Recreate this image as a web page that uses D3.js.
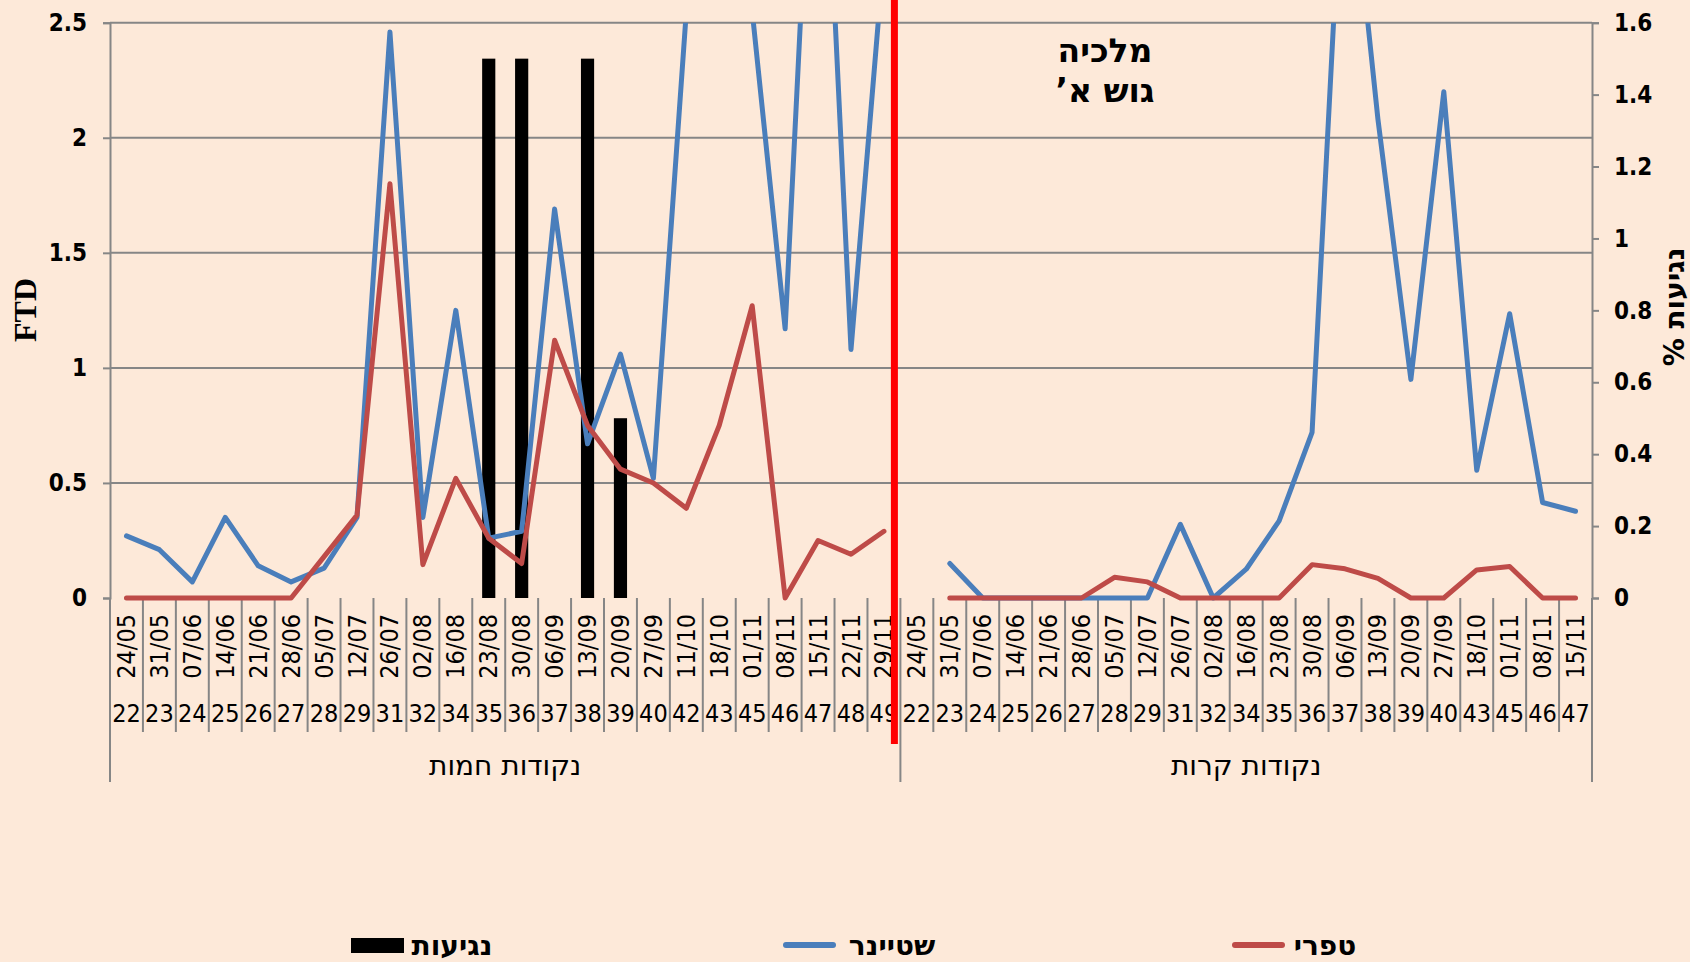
<!doctype html>
<html>
<head>
<meta charset="utf-8" />
<title>מלכיה גוש א' – FTD</title>
<style>
  html,body{margin:0;padding:0;background:#fde9d9}
  svg{display:block}
  .tick line{stroke:#868686;stroke-width:2}
  .domain{stroke:#868686;stroke-width:2}
  .ylab text{font-family:"DejaVu Sans Condensed","DejaVu Sans",sans-serif;font-weight:bold;font-size:24px;fill:#000}
  .cat{font-family:"DejaVu Sans Condensed","DejaVu Sans",sans-serif;font-size:25px;fill:#000}
  .grp{font-family:"DejaVu Sans",sans-serif;font-size:28px;fill:#000;direction:rtl;unicode-bidi:embed}
  .heb-b{font-family:"DejaVu Sans",sans-serif;font-weight:bold;fill:#000;direction:rtl;unicode-bidi:embed}
</style>
</head>
<body>
<script src="https://cdn.jsdelivr.net/npm/d3@7"></script>
<script>
// --- data ---
const groups = ["נקודות חמות", "נקודות קרות"];

const hotWeeks = [22,23,24,25,26,27,28,29,31,32,34,35,36,37,38,39,40,42,43,45,46,47,48,49];
const hotDates = ["24/05","31/05","07/06","14/06","21/06","28/06","05/07","12/07","26/07","02/08","16/08","23/08",
                  "30/08","06/09","13/09","20/09","27/09","11/10","18/10","01/11","08/11","15/11","22/11","29/11"];
const hotSteiner = [0.27,0.21,0.07,0.35,0.14,0.07,0.13,0.35,2.46,0.35,1.25,0.26,
                    0.29,1.69,0.67,1.06,0.52,2.55,3.6,2.55,1.17,4.05,1.08,2.8];
const hotTafri   = [0,0,0,0,0,0,0.18,0.36,1.80,0.145,0.52,0.26,
                    0.15,1.12,0.75,0.56,0.50,0.39,0.75,1.27,0,0.25,0.19,0.29];
const hotContact = [0,0,0,0,0,0,0,0,0,0,0,1.5,1.5,0,1.5,0.5,0,0,0,0,0,0,0,0];   // %

const coldWeeks = [22,23,24,25,26,27,28,29,31,32,34,35,36,37,38,39,40,43,45,46,47];
const coldDates = ["24/05","31/05","07/06","14/06","21/06","28/06","05/07","12/07","26/07","02/08","16/08",
                   "23/08","30/08","06/09","13/09","20/09","27/09","18/10","01/11","08/11","15/11"];
const coldSteiner = [null,0.15,0,0,0,0,0,0,0.32,0,0.125,0.335,0.72,3.45,2.08,0.95,2.2,0.555,1.235,0.415,0.377];
const coldTafri   = [null,0,0,0,0,0,0.09,0.07,0,0,0,0,0.145,0.127,0.085,0,0,0.122,0.137,0,0];
const coldContact = coldWeeks.map(() => 0);

const leftTicks  = [0,0.5,1,1.5,2,2.5];
const rightTicks = [0,0.2,0.4,0.6,0.8,1,1.2,1.4,1.6];

// --- build category rows ---
const cats = [];
hotWeeks.forEach((w,i) => cats.push({g:0, week:w, date:hotDates[i], steiner:hotSteiner[i], tafri:hotTafri[i], contact:hotContact[i]}));
coldWeeks.forEach((w,i) => cats.push({g:1, week:w, date:coldDates[i], steiner:coldSteiner[i], tafri:coldTafri[i], contact:coldContact[i]}));
cats.forEach((c,i) => c.i = i);

const W = 1690, H = 962;
const L = 110, R = 1592, T = 22.7, B = 598;

const x  = d3.scaleBand().domain(d3.range(cats.length)).range([L, R]);
const bw = x.bandwidth();
const cx = i => x(i) + bw/2;
const yL = d3.scaleLinear().domain([0,2.5]).range([B,T]);
const yR = d3.scaleLinear().domain([0,1.6]).range([B,T]);

const svg = d3.select("body").append("svg").attr("width",W).attr("height",H);
svg.append("rect").attr("width",W).attr("height",H).attr("fill","#fde9d9");

svg.append("clipPath").attr("id","plotclip")
  .append("rect").attr("x",L-20).attr("y",T).attr("width",R-L+40).attr("height",H);

// gridlines
svg.append("g").selectAll("line").data(leftTicks.slice(1)).join("line")
  .attr("x1",L).attr("x2",R).attr("y1",d=>yL(d)).attr("y2",d=>yL(d))
  .attr("stroke","#868686").attr("stroke-width",2);

// left axis
const fmt = d => String(+d.toFixed(1));
svg.append("g").attr("class","ylab").attr("transform",`translate(${L},0)`)
  .call(d3.axisLeft(yL).tickValues(leftTicks).tickSize(7).tickPadding(16).tickFormat(fmt));
// right axis
svg.append("g").attr("class","ylab").attr("transform",`translate(${R},0)`)
  .call(d3.axisRight(yR).tickValues(rightTicks).tickSize(7).tickPadding(15).tickFormat(fmt));

// category axis: separators between categories, longer ones between groups
const bounds = d3.range(cats.length + 1);
svg.append("g").selectAll("line").data(bounds).join("line")
  .attr("x1",i => i < cats.length ? x(i) : R).attr("x2",i => i < cats.length ? x(i) : R)
  .attr("y1",B)
  .attr("y2",i => (i === 0 || i === cats.length || cats[i].g !== cats[i-1].g) ? 782 : 732)
  .attr("stroke","#868686").attr("stroke-width",2);

svg.append("g").selectAll("text").data(cats).join("text")
  .attr("class","cat")
  .attr("transform",d => `translate(${cx(d.i)},614) rotate(-90)`)
  .attr("text-anchor","end").attr("dominant-baseline","central")
  .text(d => d.date);

svg.append("g").selectAll("text").data(cats).join("text")
  .attr("class","cat")
  .attr("x",d => cx(d.i)).attr("y",713)
  .attr("text-anchor","middle").attr("dominant-baseline","central")
  .text(d => d.week);

svg.append("g").selectAll("text").data(groups).join("text")
  .attr("class","grp")
  .attr("x",(d,g) => { const m = cats.filter(c => c.g === g); return (x(m[0].i) + x(m[m.length-1].i) + bw)/2; })
  .attr("y",765).attr("text-anchor","middle").attr("dominant-baseline","central")
  .text(d => d);

// bars (contacts %) on right axis
svg.append("g").selectAll("rect").data(cats.filter(d => d.contact > 0)).join("rect")
  .attr("x",d => x(d.i) + bw*0.3).attr("width",bw*0.4)
  .attr("y",d => yR(d.contact)).attr("height",d => yR(0) - yR(d.contact))
  .attr("fill","#000");

// lines: steiner first, tafri drawn over it
const lines = svg.append("g").attr("clip-path","url(#plotclip)");
[["steiner","#4a7ebb"],["tafri","#be4b48"]].forEach(([k,col]) => {
  lines.append("path").datum(cats)
    .attr("fill","none").attr("stroke",col).attr("stroke-width",5)
    .attr("stroke-linejoin","round").attr("stroke-linecap","round")
    .attr("d", d3.line().defined(d => d[k] != null).x(d => cx(d.i)).y(d => yL(d[k])));
});

// red divider between hot and cold points
const split = x(cats.find(c => c.g === 1).i) - 6;
svg.append("line").attr("x1",split).attr("x2",split).attr("y1",0).attr("y2",744)
  .attr("stroke","#ff0000").attr("stroke-width",7);

// axis titles
svg.append("text").attr("transform","translate(25,310) rotate(-90)")
  .attr("text-anchor","middle").attr("dominant-baseline","central")
  .style("font-family","'Liberation Serif','Times New Roman',serif").style("font-weight","bold").style("font-size","32px")
  .text("FTD");
svg.append("text").attr("class","heb-b").attr("transform","translate(1674,307) rotate(-90)")
  .attr("text-anchor","middle").attr("dominant-baseline","central").style("font-size","28px")
  .text("נגיעות %");

// chart title
svg.append("text").attr("class","heb-b").attr("x",1105).attr("y",50)
  .attr("text-anchor","middle").attr("dominant-baseline","central").style("font-size","33px").text("מלכיה");
svg.append("text").attr("class","heb-b").attr("x",1105).attr("y",90)
  .attr("text-anchor","middle").attr("dominant-baseline","central").style("font-size","33px").text("גוש א’");

// legend
const ly = 945;
const leg = svg.append("g");
leg.append("rect").attr("x",351).attr("y",ly-7).attr("width",53).attr("height",15).attr("fill","#000");
leg.append("text").attr("class","heb-b").attr("x",452).attr("y",ly).attr("text-anchor","middle")
  .attr("dominant-baseline","central").style("font-size","28px").text("נגיעות");
leg.append("line").attr("x1",786).attr("x2",833).attr("y1",ly).attr("y2",ly)
  .attr("stroke","#4a7ebb").attr("stroke-width",6).attr("stroke-linecap","round");
leg.append("text").attr("class","heb-b").attr("x",892).attr("y",ly).attr("text-anchor","middle")
  .attr("dominant-baseline","central").style("font-size","28px").text("שטיינר");
leg.append("line").attr("x1",1235).attr("x2",1282).attr("y1",ly).attr("y2",ly)
  .attr("stroke","#be4b48").attr("stroke-width",6).attr("stroke-linecap","round");
leg.append("text").attr("class","heb-b").attr("x",1325).attr("y",ly).attr("text-anchor","middle")
  .attr("dominant-baseline","central").style("font-size","28px").text("טפרי");
</script>
</body>
</html>
